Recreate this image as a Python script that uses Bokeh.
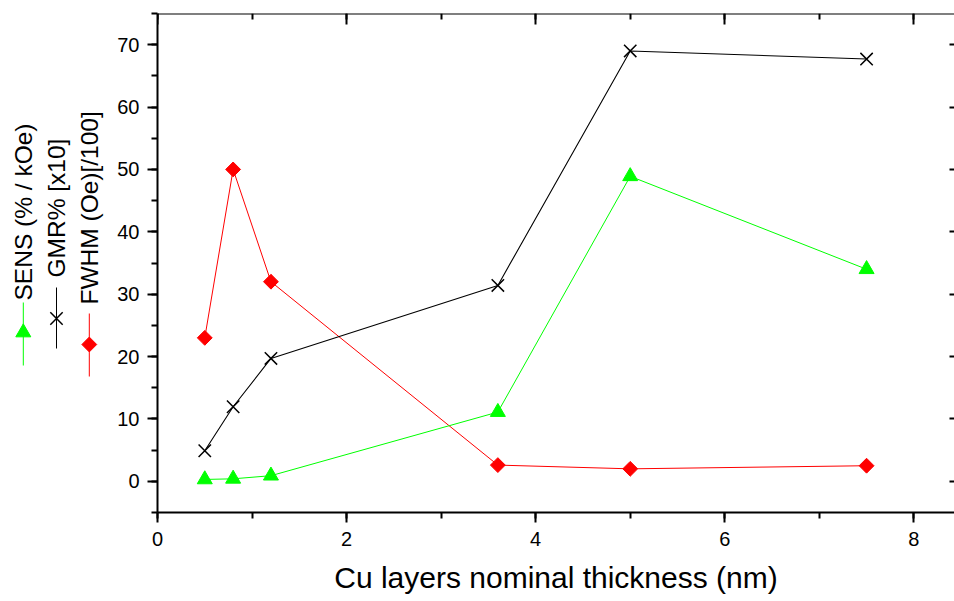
import numpy as np
from bokeh.plotting import figure
from bokeh.layouts import row
from bokeh.models import Range1d, LinearAxis, SingleIntervalTicker, CustomLabelingPolicy
from bokeh.embed import file_html
from bokeh.resources import INLINE
from bokeh.core.properties import value

# ---------------- data ----------------
thickness = [0.5, 0.8, 1.2, 3.6, 5.0, 7.5]
sens = [0.3, 0.4, 0.9, 11.1, 48.9, 34.0]
gmr = [4.9, 11.95, 19.7, 31.4, 69.0, 67.7]
fwhm = [23.0, 50.0, 32.0, 2.6, 2.0, 2.5]

series_names = ["SENS (% / kOe)", "GMR% [x10]", "FWHM (Oe)[/100]"]
x_label = "Cu layers nominal thickness (nm)"

# ---------------- style ----------------
FONT = "Liberation Sans"
GREEN, BLACK, RED = "#00ff00", "#000000", "#ff0000"
W, H = 954, 601
LEG_W = 105
FRAME_TOP, FRAME_BOTTOM = 13, 512
X_END = 8.43
Y_START, Y_END = -5, 75

NO_LABELS = CustomLabelingPolicy(code="""
const n = indices.size;
for (let i = 0; i < n; i++) {
  try { indices.unset(i) } catch (e) { try { indices.set(i, false) } catch (e2) {} }
}
return indices
""")

# ---------------- main plot ----------------
p = figure(width=W - LEG_W, height=H,
           x_range=Range1d(0, X_END), y_range=Range1d(Y_START, Y_END),
           output_backend="svg", toolbar_location=None,
           min_border_left=52, min_border_right=0,
           min_border_top=FRAME_TOP, min_border_bottom=H - FRAME_BOTTOM)
p.grid.visible = False
p.outline_line_color = None
p.background_fill_color = "white"
p.border_fill_color = "white"

xt = SingleIntervalTicker(interval=2, num_minor_ticks=2)
yt = SingleIntervalTicker(interval=10, num_minor_ticks=2)

def style_axis(ax):
    ax.axis_line_width = 2
    ax.axis_line_color = "black"
    ax.major_tick_line_width = 2
    ax.minor_tick_line_width = 2
    ax.major_tick_line_color = "black"
    ax.minor_tick_line_color = "black"
    ax.major_label_text_font = FONT
    ax.major_label_text_font_size = "20px"
    ax.major_label_text_color = "black"

xa = p.xaxis[0]
xa.ticker = xt
style_axis(xa)
xa.major_tick_out = 10
xa.major_tick_in = 0
xa.minor_tick_out = 6
xa.minor_tick_in = 0
xa.major_label_standoff = 9
xa.axis_label = x_label
xa.axis_label_text_font = FONT
xa.axis_label_text_font_size = "30px"
xa.axis_label_text_font_style = "normal"
xa.axis_label_text_color = "black"
xa.axis_label_standoff = 12

ya = p.yaxis[0]
ya.ticker = yt
style_axis(ya)
ya.major_tick_out = 10
ya.major_tick_in = 0
ya.minor_tick_out = 6
ya.minor_tick_in = 0
ya.major_label_standoff = 8

top = LinearAxis(ticker=xt, fixed_location=Y_END, major_label_policy=NO_LABELS)
style_axis(top)
top.major_tick_in = 11
top.major_tick_out = 0
top.minor_tick_in = 6
top.minor_tick_out = 0
p.add_layout(top, "above")

right = LinearAxis(ticker=yt, fixed_location=X_END, major_label_policy=NO_LABELS)
style_axis(right)
right.axis_line_color = None
right.major_tick_in = 5
right.major_tick_out = 0
right.minor_tick_in = 0
right.minor_tick_out = 0
p.add_layout(right, "right")

# series
p.line(thickness, fwhm, line_color=RED, line_width=1)
p.line(thickness, gmr, line_color=BLACK, line_width=1.1)
p.line(thickness, sens, line_color=GREEN, line_width=1)
p.scatter(thickness, sens, marker="triangle", size=15, fill_color=GREEN, line_color=GREEN)
p.scatter(thickness, gmr, marker="x", size=17.5, line_color=BLACK, line_width=1.5)
p.scatter(thickness, fwhm, marker="square", size=10.5, angle=np.pi / 4,
          fill_color=RED, line_color=RED)

# ---------------- rotated legend (left strip) ----------------
# legend strip uses pixel-like coordinates (y measured downward from the top)
lg = figure(width=LEG_W, height=H, x_range=Range1d(0, LEG_W),
            y_range=Range1d(H - FRAME_BOTTOM, H - FRAME_TOP),
            output_backend="svg", toolbar_location=None,
            x_axis_location=None, y_axis_location=None,
            min_border_left=0, min_border_right=0,
            min_border_top=FRAME_TOP, min_border_bottom=H - FRAME_BOTTOM)
lg.grid.visible = False
lg.outline_line_color = None
lg.background_fill_color = "white"
lg.border_fill_color = "white"

leg_x = [22.8, 56.0, 88.8]
leg_text_bottom = [300, 277, 304]
leg_line = [(302, 365), (287, 348), (313, 376)]
leg_mark = [332, 318, 344]
leg_colors = [GREEN, BLACK, RED]

lg.text(x=leg_x, y=[H - v for v in leg_text_bottom], text=series_names,
        angle=np.pi / 2, text_align="left", text_baseline="middle",
        text_font=value(FONT), text_font_size="24.5px", text_color="black")
lg.segment(x0=leg_x, y0=[H - a for a, b in leg_line], x1=leg_x,
           y1=[H - b for a, b in leg_line], line_color=leg_colors, line_width=1)
lg.scatter([leg_x[0]], [H - leg_mark[0]], marker="triangle", size=15,
           fill_color=GREEN, line_color=GREEN)
lg.scatter([leg_x[1]], [H - leg_mark[1]], marker="x", size=17.5,
           line_color=BLACK, line_width=1.5)
lg.scatter([leg_x[2]], [H - leg_mark[2]], marker="square", size=10.5,
           angle=np.pi / 4, fill_color=RED, line_color=RED)

layout = row(lg, p, spacing=0)
open("out.html", "w").write(file_html(layout, INLINE))
